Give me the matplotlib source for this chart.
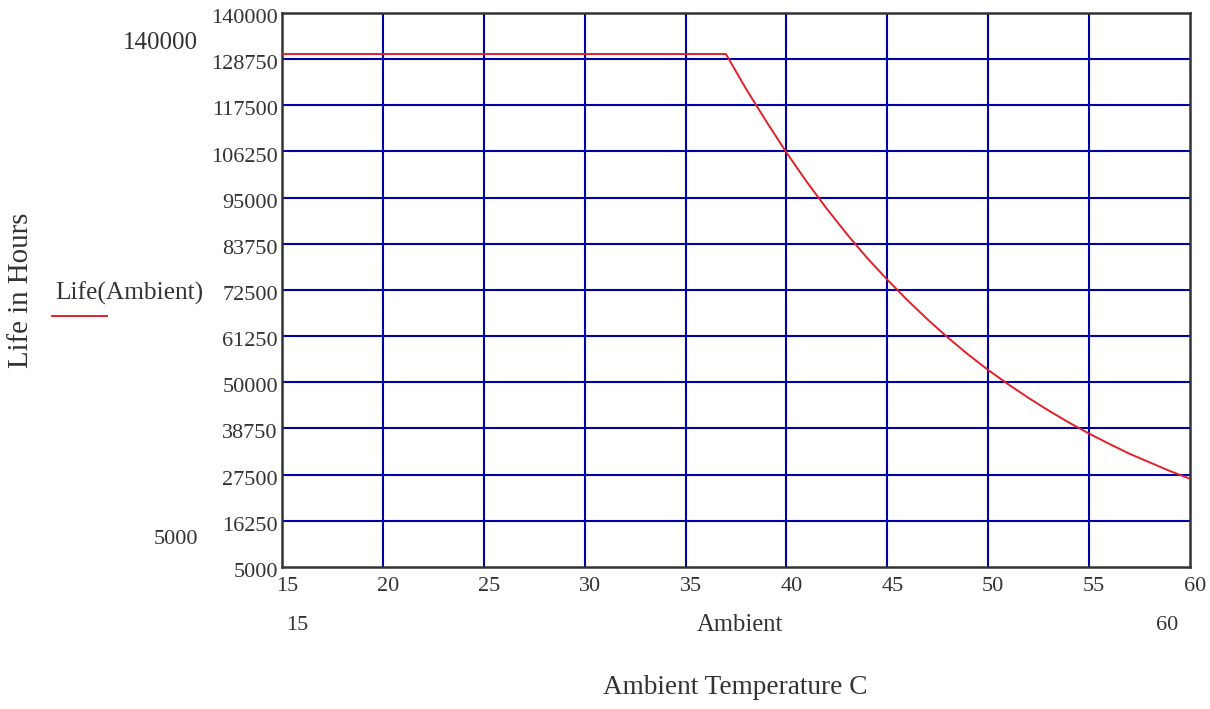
import matplotlib
matplotlib.use("Agg")
import matplotlib.pyplot as plt
import matplotlib.transforms as mtransforms
from matplotlib.lines import Line2D

ambient = [15, 20, 25, 30, 35, 36, 37, 38, 39, 40, 41, 42, 43, 44, 45, 46, 47, 48, 49,
           50, 51, 52, 53, 54, 55, 56, 57, 58, 59, 60]
life = [130000, 130000, 130000, 130000, 130000, 130000, 130000, 121500, 113600, 106000,
        98900, 92300, 86100, 80300, 75000, 70000, 65300, 60900, 56800,
        53000, 49500, 46200, 43100, 40200, 37500, 35000, 32600, 30500, 28400, 26500]

x_ticks = [15, 20, 25, 30, 35, 40, 45, 50, 55, 60]
y_ticks = [5000, 16250, 27500, 38750, 50000, 61250, 72500, 83750, 95000, 106250,
           117500, 128750, 140000]

plt.rcParams['font.family'] = ['Liberation Serif', 'DejaVu Serif']

fig = plt.figure(figsize=(12.1, 7.09), dpi=100)
ax = fig.add_axes([282/1210, 1 - 567/709, (1190-282)/1210, (567-13)/709])

grid_c = '#0000a8'
for xt in x_ticks[1:-1]:
    ax.axvline(xt, color=grid_c, lw=1.5, zorder=1)
for yt in y_ticks[1:-1]:
    ax.axhline(yt, color=grid_c, lw=1.5, zorder=1)

ax.plot(ambient, life, color='#e0202a', lw=1.4, zorder=3)

tc = '#333333'
ax.set_xlim(15, 60)
ax.set_ylim(5000, 140000)
ax.set_xticks(x_ticks)
ax.set_yticks(y_ticks)
ax.set_xticklabels([str(v) for v in x_ticks], fontsize=16, color=tc)
ax.set_yticklabels([str(v) for v in y_ticks], fontsize=16, color=tc)
ax.tick_params(axis='x', length=0, pad=7)
ax.tick_params(axis='y', length=0, pad=3)
shift_x = mtransforms.ScaledTranslation(5/100, 0, fig.dpi_scale_trans)
for lab in ax.get_xticklabels():
    lab.set_transform(lab.get_transform() + shift_x)
shift_y = mtransforms.ScaledTranslation(0, -3/100, fig.dpi_scale_trans)
for lab in ax.get_yticklabels():
    lab.set_transform(lab.get_transform() + shift_y)
for s in ax.spines.values():
    s.set_color(tc)
    s.set_linewidth(1.8)

def ftext(x, y, s, size, **kw):
    fig.text(x/1210, 1 - y/709, s, fontsize=size, ha='center', va='center', color=tc, **kw)

ftext(160, 43, '140000', 18)
ftext(176, 540, '5000', 16)
ftext(297, 625, '15', 16)
ftext(740, 625, 'Ambient', 17.7)
ftext(1167, 625, '60', 16)
ftext(735, 688, 'Ambient Temperature C', 19.6)
ftext(21, 290, 'Life in Hours', 20.8, rotation=90)
ftext(129, 293, 'Life(Ambient)', 18.3)
fig.add_artist(Line2D([52/1210, 107/1210], [1 - 316/709, 1 - 316/709],
                      color='#e0202a', lw=1.4))

fig.savefig('out.png', dpi=100)
